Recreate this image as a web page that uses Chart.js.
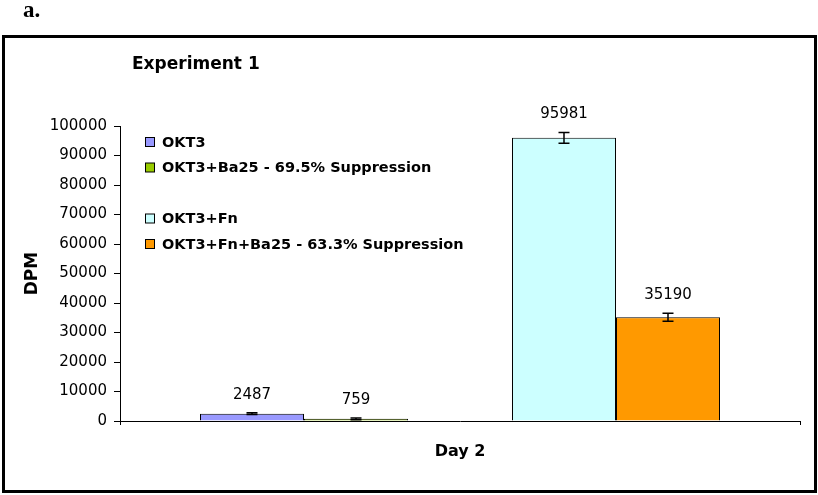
<!DOCTYPE html>
<html>
<head>
<meta charset="utf-8">
<script src="https://cdn.jsdelivr.net/npm/chart.js@4/dist/chart.umd.min.js"></script>
<style>
  body { margin: 0; background: #fff; }
  #wrap { position: relative; width: 818px; height: 495px; }
  #tag { position: absolute; left: 23px; top: -3px; font: bold 23px "Liberation Serif", serif; color: #000; }
  #frame { position: absolute; left: 2px; top: 35px; width: 815px; height: 458px; box-sizing: border-box; border: 3px solid #000; pointer-events: none; }
</style>
</head>
<body>
<div id="wrap">
  <canvas id="grafico" width="818" height="495"></canvas>
  <div id="tag">a.</div>
  <div id="frame"></div>
</div>
<script>
const categorias = ['Day 2'];
const series = ['OKT3', 'OKT3+Ba25 - 69.5% Suppression', '', 'OKT3+Fn', 'OKT3+Fn+Ba25 - 63.3% Suppression'];
const valores = [2487, 759, null, 95981, 35190];
const erros = [300, 300, null, 1800, 1350];
const cores = ['#9999FF', '#99CC00', 'transparent', '#CCFFFF', '#FF9900'];
const ticksY = { min: 0, max: 100000, passo: 10000 };

const FONTE = '"DejaVu Sans", sans-serif';

// barras de erro e rotulos de valor
const pluginErros = {
    id: 'erros',
    afterDatasetsDraw(chart) {
        const ctx = chart.ctx;
        const y = chart.scales.y;
        ctx.save();
        chart.data.datasets.forEach((ds, i) => {
            const v = ds.data[0];
            if (v == null) return;
            const bar = chart.getDatasetMeta(i).data[0];
            const e = erros[i];
            const yTop = y.getPixelForValue(v + e);
            const yBot = y.getPixelForValue(Math.max(0, v - e));
            ctx.strokeStyle = '#000';
            ctx.lineWidth = 1.5;
            ctx.beginPath();
            ctx.moveTo(bar.x, yTop); ctx.lineTo(bar.x, yBot);
            ctx.moveTo(bar.x - 5.5, yTop); ctx.lineTo(bar.x + 5.5, yTop);
            ctx.moveTo(bar.x - 5.5, yBot); ctx.lineTo(bar.x + 5.5, yBot);
            ctx.stroke();
            ctx.fillStyle = '#000';
            ctx.font = '15px ' + FONTE;
            ctx.textAlign = 'center';
            ctx.textBaseline = 'middle';
            ctx.fillText(String(v), bar.x, yTop - 18);
        });
        ctx.restore();
    }
};

// titulo e legenda dentro da area do grafico
const pluginLegenda = {
    id: 'legendaInterna',
    afterDraw(chart) {
        const ctx = chart.ctx;
        ctx.save();
        ctx.fillStyle = '#000';
        ctx.font = 'bold 17px ' + FONTE;
        ctx.textAlign = 'left';
        ctx.textBaseline = 'alphabetic';
        ctx.fillText('Experiment 1', 132, 69);

        ctx.font = 'bold 14.5px ' + FONTE;
        ctx.textBaseline = 'middle';
        chart.data.datasets.forEach((ds, i) => {
            if (!ds.label) return;
            const cy = 142 + i * 25.5;
            ctx.fillStyle = ds.backgroundColor;
            ctx.fillRect(145.5, cy - 4.5, 9, 9);
            ctx.strokeStyle = '#000';
            ctx.lineWidth = 1;
            ctx.strokeRect(145.5, cy - 4.5, 9, 9);
            ctx.fillStyle = '#000';
            ctx.fillText(ds.label, 162, cy + 1);
        });
        ctx.restore();
    }
};

new Chart(document.getElementById('grafico'), {
    type: 'bar',
    data: {
        labels: categorias,
        datasets: series.map((nome, i) => ({
            label: nome,
            data: [valores[i]],
            backgroundColor: cores[i],
            borderColor: '#000',
            borderWidth: valores[i] == null ? 0 : 1,
            categoryPercentage: 0.7647,
            barPercentage: 1
        }))
    },
    options: {
        responsive: false,
        animation: false,
        layout: { padding: { top: 126, right: 18, bottom: 0, left: 0 } },
        plugins: { legend: { display: false }, tooltip: { enabled: false } },
        scales: {
            x: {
                afterFit: s => { s.height = 74; },
                grid: { drawOnChartArea: false, tickLength: 4, color: '#000', tickColor: '#000' },
                border: { color: '#000', width: 1 },
                ticks: { color: '#000', font: { family: FONTE, size: 16, weight: 'bold' }, padding: 17 }
            },
            y: {
                min: ticksY.min,
                max: ticksY.max,
                afterFit: s => { s.width = 120; },
                grid: { drawOnChartArea: false, tickLength: 6, color: '#000', tickColor: '#000' },
                border: { color: '#000', width: 1 },
                ticks: { stepSize: ticksY.passo, color: '#000', font: { family: FONTE, size: 15 }, padding: 7, callback: v => String(v) },
                title: { display: true, text: 'DPM', color: '#000', font: { family: FONTE, size: 17, weight: 'bold' }, padding: { top: 22, bottom: 0 } }
            }
        }
    },
    plugins: [pluginErros, pluginLegenda]
});
</script>
</body>
</html>
